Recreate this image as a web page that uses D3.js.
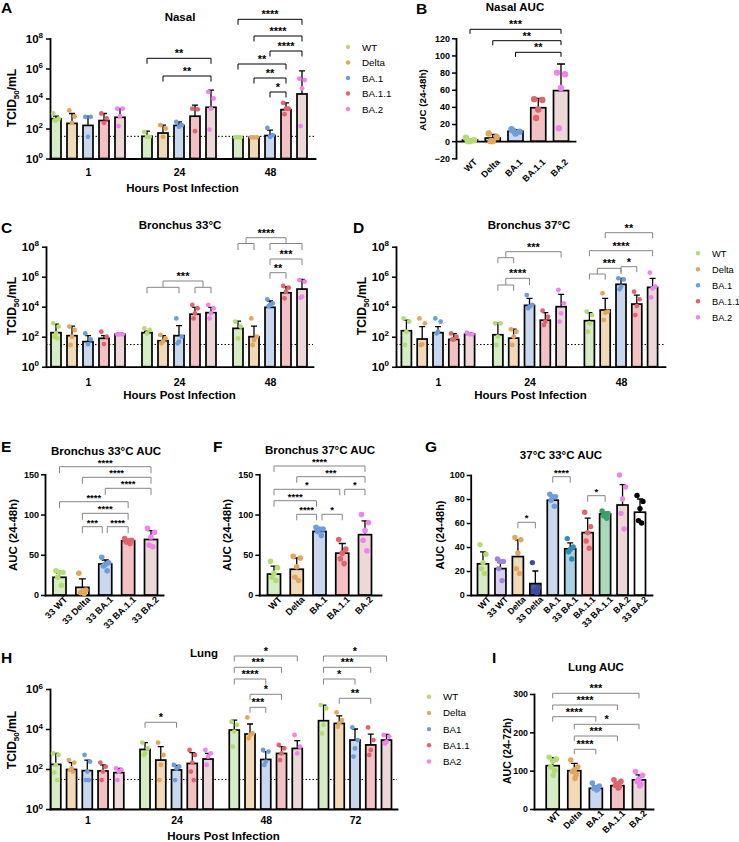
<!DOCTYPE html>
<html><head><meta charset="utf-8">
<script src="https://cdn.jsdelivr.net/npm/d3@7"></script>
<style>body{margin:0;background:#fff}svg{display:block}</style>
</head><body><svg id="c" width="739" height="842"></svg>
<script>
// ---------------- DATA ----------------
const variants = ["WT","Delta","BA.1","BA.1.1","BA.2"];
const lungVariants = ["WT","Delta","BA1","BA1.1","BA2"];
const e33Labels = ["33 WT","33 Delta","33 BA.1","33 BA.1.1","33 BA.2"];
const gLabels = ["WT","33 WT","Delta","33 Delta","BA.1","33 BA.1","BA.1.1","33 BA.1.1","BA.2","33 BA.2"];
const hours3 = ["1","24","48"];
const hours4 = ["1","24","48","72"];
const detectionLimit = 30;

// Nasal TCID50/mL (rows = hours, cols = variants)
const nasalMean = [[450,220,160,340,560],[30,50,160,660,2600],[26,26,34,1800,20000]];
const nasalErr  = [[660,1000,660,1000,2100],[66,170,280,3600,36000],[26,26,78,5100,690000]];
const nasalPts = [
 [[1000,450,350,350],[1600,630,240],[600,600,28],[1000,470,240],[2100,2100,660,145]],
 [[60,28,28],[166,100,28],[280,166,130],[2100,1900,66],[28000,10000,2100,85]],
 [[26,26,26],[26,26,26],[110,36,28],[5100,2100,2100,900],[210000,170000,47000,145]]
];
// Nasal AUC
const nasalAucMean = [1.2,3.6,11.5,39,59];
const nasalAucErr  = [3,8,13.5,50,90];
const nasalAucPts  = [[4,1,0,0],[9,5,0,0],[14,11,9,12],[49,48,37,27],[80,78,62,15]];

// Bronchus 33
const b33Mean = [[186,117,47,78,145],[186,54,117,3200,4000],[360,100,9100,85000,150000]];
const b33Err  = [[690,500,117,117,186],[230,117,540,9100,9100],[1100,510,24000,214000,660000]];
const b33Pts = [
 [[780,470,166,100,78],[470,280,100,28],[166,66,32],[214,100,32],[145,145,145,145]],
 [[360,280,166],[130,78,47,36],[1660,100,47,36],[13000,7800,3600,1660],[13000,7800,3600,1660]],
 [[1000,470,78],[1660,100,60,28],[31000,16600,13000,11000],[240000,186000,100000,36000],[600000,470000,47000,40000]]
];
// Bronchus 37
const b37Mean = [[250,70,186,66,145],[135,80,12300,1260,10000],[1170,6000,310000,15000,195000]];
const b37Err  = [[1260,470,470,160,186],[800,316,36000,4000,66000],[4000,36000,780000,60000,780000]];
const b37Pts = [
 [[1660,1000,214,28],[1660,780,31,28],[1660,1000,214,166],[166,100,66,66],[186,145,145]],
 [[780,780,100,28],[310,214,100,28],[60000,13000,10000,7800],[5400,2140,1000,600],[130000,16600,3600,1000]],
 [[4700,2750,780,214],[78000,4700,4000,1290],[780000,660000,214000,145000],[100000,31000,11000,2750],[1860000,214000,166000,42000]]
];
// AUC (24-48h)
const b33AucMean = [22,9.5,38.5,67.5,69];
const b33AucErr  = [27,20,43.5,69,80];
const b33AucPts  = [[30,28,28,22,12],[27,6,4,3,2],[47,40,38,36,30],[70,68,67,66,64],[83,78,72,62,60]];
const b37AucMean = [26,32,79,52,75];
const b37AucErr  = [36,46,81,64,92];
const b37AucPts  = [[42,34,27,22,18],[48,46,35,22,18],[84,82,82,79,74],[69,57,52,45,39],[100,90,80,68,55]];

// Lung
const lungMean = [[170,95,83,80,66],[950,280,90,190,316],[8900,5600,300,600,1070],[26000,19000,2800,1600,2800]];
const lungErr  = [[600,210,280,160,107],[2100,1300,150,660,600],[28000,17800,740,1300,2600],[158000,45000,10000,5600,5400]];
const lungPts = [
 [[600,500,160,66,28],[280,210,107,90,74],[500,234,74,28,28],[210,130,74,28],[107,90,74,28]],
 [[2100,1070,600,500],[2100,500,160,28],[160,130,107,28],[890,500,210,74,28],[890,600,420,160]],
 [[23000,16000,7400,1300],[38000,6000,5000,3400],[890,740,234,160],[1600,1070,600,280],[5000,1300,600]],
 [[158000,107000,16000,6000],[68000,28000,19000,13000],[12000,2800,1070,420],[12000,2800,890,500],[5000,4200,2300,1900]]
];
const lungAucMean = [113,100,54,61,76];
const lungAucErr  = [134,119,60,70,89];
const lungAucPts  = [[135,130,125,110,100,88],[128,110,102,98,90,80],[68,60,56,54,52,50],[76,72,65,62,58,55],[98,88,78,72,65,60]];

// ---------------- STYLE ----------------
const FONT = '"Liberation Sans", Arial, Helvetica, sans-serif';
const vFill = ["#d5ecc4","#f2d9b7","#c9d8ee","#f2c1c4","#ecd8d8"];
const vDot  = ["#b5dc74","#e3a65e","#6f9cdb","#e1646d","#ee84ec"];
const v33Fill = ["#dacff0","#4c5ca8","#a9d3e4","#a9d8ba","#ffffff"];
const v33Dot  = ["#a183d8","#3e4c9f","#2e8cb9","#3ca06b","#000000"];
const jit = [-0.75,0.75,0,-0.4,0.4,0.15];
const GREY = "#858585";

const svg = d3.select("#c");

function txt(x,y,s,o={}){
  return svg.append("text").attr("x",x).attr("y",y).text(s)
    .attr("font-family",FONT).attr("font-size",o.fs||11).attr("font-weight",o.fw||"bold")
    .attr("text-anchor",o.anchor||"middle").attr("fill",o.fill||"#000");
}
function panelLetter(x,y,s){ txt(x,y,s,{fs:15.5,anchor:"start"}); }
function styleAxis(g,fs){
  g.attr("font-family",FONT);
  g.select(".domain").attr("stroke","#000").attr("stroke-width",1.8).attr("stroke-linecap","square");
  g.selectAll(".tick line").attr("stroke","#000").attr("stroke-width",1.5);
  g.selectAll(".tick text").attr("font-family",FONT).attr("font-weight","bold").attr("font-size",fs).attr("fill","#000");
}
function yLabelTCID(x,y){
  const t = svg.append("text").attr("transform",`translate(${x},${y}) rotate(-90)`)
    .attr("text-anchor","middle").attr("font-family",FONT).attr("font-weight","bold").attr("font-size",12);
  t.append("tspan").text("TCID");
  t.append("tspan").attr("font-size",8).attr("dy",3).text("50");
  t.append("tspan").attr("dy",-3).text("/mL");
}
function yLabel(x,y,s,fs){
  svg.append("text").attr("transform",`translate(${x},${y}) rotate(-90)`)
    .attr("text-anchor","middle").attr("font-family",FONT).attr("font-weight","bold").attr("font-size",fs).text(s);
}
function bracket(x1,x2,y,drop,label,color,fs){
  svg.append("path").attr("d",`M${x1},${y+drop}V${y}H${x2}V${y+drop}`)
    .attr("fill","none").attr("stroke",color).attr("stroke-width",1);
  txt((x1+x2)/2,y-1,label,{fs:fs,fill:"#000"});
}
function groupBracket(xs,L,R,y,sub,drop,label,color,fs){
  function side(a,b){
    if(a===b){ return xs[a]; }
    const xa=xs[a], xb=xs[b], m=(xa+xb)/2;
    svg.append("path").attr("d",`M${xa},${sub+drop}V${sub}H${xb}V${sub+drop}M${m},${sub}V${y}`)
      .attr("fill","none").attr("stroke",color).attr("stroke-width",1);
    return m;
  }
  const ml=side(L[0],L[1]), mr=side(R[0],R[1]);
  let d=`M${ml},${y}H${mr}`;
  if(L[0]===L[1]) d=`M${ml},${sub}V${y}H${mr}`;
  if(R[0]===R[1]) d+=`V${sub}`;
  svg.append("path").attr("d",d).attr("fill","none").attr("stroke",color).attr("stroke-width",1);
  txt((ml+mr)/2,y-1,label,{fs:fs});
}
function drawMarks(items,y,base,o){
  const g=svg.append("g");
  g.selectAll("rect").data(items).join("rect")
    .attr("x",d=>d.cx-o.w/2).attr("y",d=>y(d.mean)).attr("width",o.w).attr("height",d=>Math.max(0,base-y(d.mean)))
    .attr("fill",d=>d.fill).attr("stroke","#000").attr("stroke-width",1.7);
  const er=items.filter(d=>y(d.err)<y(d.mean)-0.8);
  g.selectAll("path.err").data(er).join("path").attr("class","err")
    .attr("d",d=>`M${d.cx},${y(d.mean)}V${y(d.err)}M${d.cx-o.cap/2},${y(d.err)}H${d.cx+o.cap/2}`)
    .attr("stroke","#000").attr("stroke-width",1.3).attr("fill","none");
  const pts=items.flatMap(d=>d.pts.map((v,i)=>({x:d.cx+jit[i%jit.length]*o.w*0.36,v:v,c:d.dot})));
  g.selectAll("circle").data(pts).join("circle")
    .attr("cx",d=>d.x).attr("cy",d=>y(d.v)).attr("r",o.r).attr("fill",d=>d.c);
}

// ------------ Log grouped panels -------------
function logPanel(o){
  const y=d3.scaleLog().domain([1,Math.pow(10,o.maxExp)]).range([o.yBot,o.yTop]);
  const xg=d3.scalePoint().domain(o.groups).range(o.groupRange);
  const xv=d3.scalePoint().domain(o.vars).range(o.offRange);
  const ticks=d3.range(0,o.maxExp+1,2).map(e=>Math.pow(10,e));
  const ya=svg.append("g").attr("transform",`translate(${o.x0},0)`)
    .call(d3.axisLeft(y).tickValues(ticks).tickSize(4).tickSizeOuter(0).tickPadding(3));
  styleAxis(ya,11.5);
  ya.selectAll(".tick text").each(function(d){
    const t=d3.select(this); t.text("");
    t.append("tspan").text("10");
    t.append("tspan").attr("dy",-4.5).attr("font-size",8).text(Math.round(Math.log10(d)));
  });
  const xl=d3.scaleLinear().domain([o.x0,o.x1]).range([o.x0,o.x1]);
  const xa=svg.append("g").attr("transform",`translate(0,${o.yBot})`).call(d3.axisBottom(xl).tickValues([]).tickSizeOuter(0));
  styleAxis(xa,10);
  const xga=svg.append("g").attr("transform",`translate(0,${o.yBot})`).call(d3.axisBottom(xg).tickSize(0).tickPadding(o.labPad));
  xga.select(".domain").remove();
  styleAxis(xga,10.5);
  svg.append("line").attr("x1",o.x0).attr("x2",o.x1).attr("y1",y(detectionLimit)).attr("y2",y(detectionLimit))
    .attr("stroke","#000").attr("stroke-width",1).attr("stroke-dasharray","1.5,2");
  const items=[];
  o.groups.forEach((g,gi)=>o.vars.forEach((v,vi)=>{
    items.push({cx:xg(g)+xv(v),mean:o.mean[gi][vi],err:o.err[gi][vi],pts:o.pts[gi][vi],fill:vFill[vi],dot:vDot[vi]});
  }));
  drawMarks(items,y,o.yBot,{w:o.barW,cap:6,r:2.4});
  const cx=(gi,vi)=>xg(o.groups[gi])+xv(o.vars[vi]);
  (o.brackets||[]).forEach(b=>bracket(cx(b[0],b[1]),cx(b[0],b[2]),b[3],o.drop,b[4],o.bc,o.sfs));
  (o.gbrackets||[]).forEach(b=>{
    const xs=o.vars.map((v,vi)=>cx(b.g,vi));
    groupBracket(xs,b.L,b.R,b.y,b.sub,b.drop,b.label,o.bc,o.sfs);
  });
  txt(o.titleX,o.titleY,o.title,{fs:11.5});
  txt((o.x0+o.x1)/2,o.xlabY,"Hours Post Infection",{fs:11.5});
  yLabelTCID(o.ylabX,o.ylabY);
}

// ------------ AUC panels -------------
function aucPanel(o){
  const y=d3.scaleLinear().domain(o.domain).range([o.yBot,o.yTop]);
  const xv=d3.scalePoint().domain(o.labels).range(o.barRange);
  const ya=svg.append("g").attr("transform",`translate(${o.x0},0)`)
    .call(d3.axisLeft(y).tickValues(o.ticks).tickSize(4).tickSizeOuter(0).tickPadding(2));
  styleAxis(ya,o.tfs);
  const xl=d3.scaleLinear().domain([o.x0,o.x1]).range([o.x0,o.x1]);
  const xa=svg.append("g").attr("transform",`translate(0,${y(0)})`).call(d3.axisBottom(xl).tickValues([]).tickSizeOuter(0));
  styleAxis(xa,10);
  const xla=svg.append("g").attr("transform",`translate(0,${y(o.domain[0])})`).call(d3.axisBottom(xv).tickSize(0).tickPadding(0));
  xla.select(".domain").remove();
  styleAxis(xla,o.lfs);
  xla.selectAll(".tick text").attr("text-anchor","end").attr("y",o.ly||5).attr("x",2).attr("dy","0.35em").attr("transform","rotate(-45)");
  const items=o.labels.map((l,i)=>({cx:xv(l),mean:o.mean[i],err:o.err[i],pts:o.pts[i],fill:o.fills[i],dot:o.dots[i]}));
  drawMarks(items,y,y(0),{w:o.barW,cap:o.cap||7,r:o.r});
  (o.brackets||[]).forEach(b=>{
    bracket(xv(o.labels[b[0]])+(b[4]||0),xv(o.labels[b[1]])-(b[5]||0),b[2],o.drop,b[3],o.bc,o.sfs);
  });
  txt(o.titleX,o.titleY,o.title,{fs:11.5});
  yLabel(o.ylabX,o.ylabY,o.ylab,o.ylfs);
}
function legend(x,y0,step,labels,fs){
  labels.forEach((l,i)=>{
    svg.append("circle").attr("cx",x).attr("cy",y0+i*step).attr("r",2.2).attr("fill",vDot[i]);
    txt(x+14,y0+i*step+3.5,l,{fs:fs||9.8,fw:"normal",anchor:"start"});
  });
}

// ---- Panel A
panelLetter(1,13,"A");
logPanel({x0:50,x1:315,yTop:38.5,yBot:158.5,maxExp:8,groups:hours3,vars:variants,groupRange:[88,270],offRange:[-32,32],
  barW:10,mean:nasalMean,err:nasalErr,pts:nasalPts,labPad:10.5,bc:"#000",drop:5.5,sfs:11,
  brackets:[[1,0,4,58.3,"**"],[1,1,4,76,"**"],[2,0,4,19.3,"****"],[2,1,4,36,"****"],[2,2,4,51,"****"],[2,0,3,64,"**"],[2,1,3,78,"**"],[2,2,3,92,"*"]],
  title:"Nasal",titleX:180,titleY:21,xlabY:191.5,ylabX:16,ylabY:98});
legend(348,47,15.5,variants);

// ---- Panel B
panelLetter(416,14,"B");
aucPanel({x0:456,x1:575,yTop:38.3,yBot:158.3,domain:[-20,120],ticks:[-20,0,20,40,60,80,100,120],tfs:9,
  labels:variants,barRange:[470,561],barW:15,mean:nasalAucMean,err:nasalAucErr,pts:nasalAucPts,fills:vFill,dots:vDot,r:3.2,cap:8,
  lfs:9,ly:5,bc:"#000",drop:4.5,sfs:11,brackets:[[0,4,29.3,"***"],[1,4,40.7,"**"],[2,4,52.3,"**"]],
  title:"Nasal AUC",titleX:515,titleY:11,ylab:"AUC (24-48h)",ylabX:426,ylabY:100,ylfs:9.8});

// ---- Panel C
panelLetter(1,233,"C");
logPanel({x0:46,x1:313,yTop:246.7,yBot:366.7,maxExp:8,groups:hours3,vars:variants,groupRange:[88,270],offRange:[-32,32],
  barW:10,mean:b33Mean,err:b33Err,pts:b33Pts,labPad:12,bc:GREY,drop:6,sfs:11,
  brackets:[[2,2,4,259,"***"],[2,2,3,272.7,"**"]],
  gbrackets:[{g:1,L:[0,2],R:[3,4],y:281,sub:287.3,drop:6,label:"***"},{g:2,L:[0,1],R:[2,4],y:237.7,sub:243.5,drop:6.5,label:"****"}],
  title:"Bronchus 33°C",titleX:180,titleY:229,xlabY:399,ylabX:16,ylabY:306});

// ---- Panel D
panelLetter(353,233,"D");
logPanel({x0:396,x1:665,yTop:246.7,yBot:366.7,maxExp:8,groups:hours3,vars:variants,groupRange:[438,621],offRange:[-31.6,31.6],
  barW:10,mean:b37Mean,err:b37Err,pts:b37Pts,labPad:12,bc:GREY,drop:5.5,sfs:11,
  brackets:[[2,1,4,232.7,"**"],[2,0,4,250.7,"****"],[2,2,3,266.7,"*"]],
  gbrackets:[{g:1,L:[0,1],R:[4,4],y:251.7,sub:257.7,drop:5.5,label:"***"},{g:1,L:[0,1],R:[2,2],y:278.3,sub:285,drop:6,label:"****"},
             {g:2,L:[0,1],R:[2,2],y:268.3,sub:274,drop:5.5,label:"***"}],
  title:"Bronchus 37°C",titleX:529,titleY:229,xlabY:399,ylabX:366,ylabY:306});
legend(698,253.3,16,variants,9.3);

// ---- Panel E
panelLetter(1,452,"E");
aucPanel({x0:45,x1:163,yTop:474.3,yBot:595,domain:[0,150],ticks:[0,50,100,150],tfs:9,
  labels:e33Labels,barRange:[59.5,151],barW:13,mean:b33AucMean,err:b33AucErr,pts:b33AucPts,fills:vFill,dots:vDot,r:2.8,
  lfs:9.2,ly:6,bc:GREY,drop:6.5,sfs:9.5,
  brackets:[[0,4,466.7,"****"],[1,4,477.3,"****"],[2,4,488.3,"****"],[0,3,501.7,"****"],[1,3,513.3,"****"],[1,2,526.7,"***",0,3],[2,3,526.7,"****",2,0]],
  title:"Bronchus 33°C AUC",titleX:106,titleY:455,ylab:"AUC (24-48h)",ylabX:17,ylabY:535,ylfs:11.5});

// ---- Panel F
panelLetter(213,452,"F");
aucPanel({x0:259.3,x1:381,yTop:474.3,yBot:595,domain:[0,150],ticks:[0,50,100,150],tfs:9,
  labels:variants,barRange:[274,365],barW:13,mean:b37AucMean,err:b37AucErr,pts:b37AucPts,fills:vFill,dots:vDot,r:2.8,
  lfs:9.2,ly:6,bc:GREY,drop:6,sfs:9.5,
  brackets:[[0,4,466,"****"],[1,4,476.7,"***"],[0,3,489.3,"*",0,2.5],[3,4,489.3,"*",2.5,0],[0,2,500.7,"****",0,3],[1,2,514.3,"****",0,3],[2,3,514.3,"*",2.5,0]],
  title:"Bronchus 37°C AUC",titleX:320,titleY:454,ylab:"AUC (24-48h)",ylabX:231,ylabY:535,ylfs:11.5});

// ---- Panel G (37°C vs 33°C interleaved)
panelLetter(425,452,"G");
const gMean=[],gErr=[],gPts=[],gFill=[],gDot=[];
variants.forEach((v,i)=>{
  gMean.push(b37AucMean[i],b33AucMean[i]); gErr.push(b37AucErr[i],b33AucErr[i]); gPts.push(b37AucPts[i],b33AucPts[i]);
  gFill.push(vFill[i],v33Fill[i]); gDot.push(vDot[i],v33Dot[i]);
});
aucPanel({x0:470.7,x1:652,yTop:475,yBot:595,domain:[0,100],ticks:[0,20,40,60,80,100],tfs:9,
  labels:gLabels,barRange:[483,640],barW:11,mean:gMean,err:gErr,pts:gPts,fills:gFill,dots:gDot,r:2.7,cap:6,
  lfs:8.8,ly:6,bc:GREY,drop:6,sfs:9.5,
  brackets:[[2,3,522.3,"*"],[4,5,476.7,"****"],[6,7,495.7,"*"]],
  title:"37°C 33°C AUC",titleX:561,titleY:459,ylab:"AUC (24-48h)",ylabX:444,ylabY:535,ylfs:11});

// ---- Panel H
panelLetter(1,663,"H");
logPanel({x0:50,x1:397,yTop:689,yBot:809,maxExp:6,groups:hours4,vars:lungVariants,groupRange:[87.3,355],offRange:[-31.5,31.5],
  barW:10,mean:lungMean,err:lungErr,pts:lungPts,labPad:8,bc:GREY,drop:5.5,sfs:11,
  brackets:[[1,0,2,722.3,"*"],[2,0,4,656,"*"],[2,0,3,667.3,"***"],[2,0,2,679,"****"],[2,1,3,694.3,"*"],[2,1,2,707.3,"***"],
            [3,0,4,656,"*"],[3,0,3,667.3,"***"],[3,0,2,679,"*"],[3,1,3,698.3,"**"]],
  title:"Lung",titleX:204,titleY:657,xlabY:840,ylabX:16,ylabY:740});
legend(429,696.7,16.2,lungVariants);

// ---- Panel I
panelLetter(492,663,"I");
aucPanel({x0:534,x1:653,yTop:694,yBot:809,domain:[0,300],ticks:[0,100,200,300],tfs:8.8,
  labels:variants,barRange:[552.7,639],barW:13,mean:lungAucMean,err:lungAucErr,pts:lungAucPts,fills:vFill,dots:vDot,r:2.8,
  lfs:9,ly:6,bc:GREY,drop:5,sfs:11,
  brackets:[[0,4,693.3,"***"],[0,3,705,"****"],[0,2,716.7,"****"],[1,4,724.3,"*"],[1,3,736,"***"],[1,2,749.3,"****"]],
  title:"Lung AUC",titleX:596,titleY:671,ylab:"AUC (24-72h)",ylabX:511,ylabY:751,ylfs:10.5});
</script></body></html>
